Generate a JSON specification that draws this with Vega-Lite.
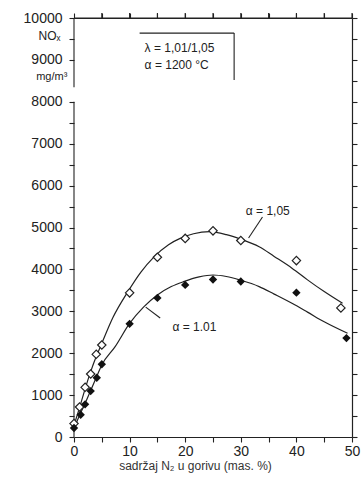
{
  "$schema": "https://vega.github.io/schema/vega-lite/v6.json",
  "width": 278,
  "height": 419,
  "autosize": {"type": "none"},
  "padding": {"left": 74, "top": 18, "right": 9, "bottom": 42},
  "background": "white",
  "config": {
    "view": {"stroke": null},
    "font": "Liberation Sans",
    "axis": {"grid": false, "domainColor": "#222", "tickColor": "#222", "labelColor": "#222", "labelFont": "Liberation Sans", "labelFontSize": 14, "tickSize": 5, "domainWidth": 1.2, "tickWidth": 1.1},
    "text": {"font": "Liberation Sans", "color": "#222"}
  },
  "datasets": {
    "pts": [
      {"x": 0, "y": 320, "s": "1,05"}, {"x": 1, "y": 715, "s": "1,05"}, {"x": 2, "y": 1186, "s": "1,05"}, {"x": 3, "y": 1503, "s": "1,05"}, {"x": 4, "y": 1973, "s": "1,05"}, {"x": 5, "y": 2195, "s": "1,05"}, {"x": 10, "y": 3440, "s": "1,05"}, {"x": 15, "y": 4290, "s": "1,05"}, {"x": 20, "y": 4740, "s": "1,05"}, {"x": 25, "y": 4920, "s": "1,05"}, {"x": 30, "y": 4690, "s": "1,05"}, {"x": 40, "y": 4210, "s": "1,05"}, {"x": 48, "y": 3080, "s": "1,05"},
      {"x": 0, "y": 215, "s": "1,01"}, {"x": 1.2, "y": 530, "s": "1,01"}, {"x": 2, "y": 780, "s": "1,01"}, {"x": 3, "y": 1095, "s": "1,01"}, {"x": 4.1, "y": 1415, "s": "1,01"}, {"x": 5, "y": 1735, "s": "1,01"}, {"x": 10, "y": 2700, "s": "1,01"}, {"x": 15, "y": 3320, "s": "1,01"}, {"x": 20, "y": 3630, "s": "1,01"}, {"x": 25, "y": 3760, "s": "1,01"}, {"x": 30, "y": 3710, "s": "1,01"}, {"x": 40, "y": 3445, "s": "1,01"}, {"x": 49, "y": 2360, "s": "1,01"}
    ],
    "fit": [
      {"x": 0, "y": 280, "s": "1,05"}, {"x": 1, "y": 700, "s": "1,05"}, {"x": 2, "y": 1150, "s": "1,05"}, {"x": 3, "y": 1560, "s": "1,05"}, {"x": 4, "y": 1920, "s": "1,05"}, {"x": 5, "y": 2235, "s": "1,05"}, {"x": 7, "y": 2850, "s": "1,05"}, {"x": 9.7, "y": 3470, "s": "1,05"}, {"x": 12, "y": 3930, "s": "1,05"}, {"x": 14.4, "y": 4300, "s": "1,05"}, {"x": 17, "y": 4590, "s": "1,05"}, {"x": 19.1, "y": 4740, "s": "1,05"}, {"x": 21.5, "y": 4850, "s": "1,05"}, {"x": 24.4, "y": 4900, "s": "1,05"}, {"x": 27.4, "y": 4830, "s": "1,05"}, {"x": 30, "y": 4720, "s": "1,05"}, {"x": 33.3, "y": 4540, "s": "1,05"}, {"x": 36, "y": 4310, "s": "1,05"}, {"x": 39.2, "y": 4030, "s": "1,05"}, {"x": 42, "y": 3750, "s": "1,05"}, {"x": 45, "y": 3470, "s": "1,05"}, {"x": 48.3, "y": 3190, "s": "1,05"},
      {"x": 0, "y": 200, "s": "1,01"}, {"x": 1, "y": 520, "s": "1,01"}, {"x": 2, "y": 800, "s": "1,01"}, {"x": 3, "y": 1110, "s": "1,01"}, {"x": 4, "y": 1420, "s": "1,01"}, {"x": 5, "y": 1720, "s": "1,01"}, {"x": 7.4, "y": 2155, "s": "1,01"}, {"x": 10, "y": 2710, "s": "1,01"}, {"x": 12.5, "y": 3100, "s": "1,01"}, {"x": 15, "y": 3390, "s": "1,01"}, {"x": 17.5, "y": 3590, "s": "1,01"}, {"x": 19.7, "y": 3707, "s": "1,01"}, {"x": 22.5, "y": 3820, "s": "1,01"}, {"x": 25, "y": 3866, "s": "1,01"}, {"x": 27.4, "y": 3830, "s": "1,01"}, {"x": 30, "y": 3740, "s": "1,01"}, {"x": 33.3, "y": 3590, "s": "1,01"}, {"x": 36, "y": 3410, "s": "1,01"}, {"x": 39.2, "y": 3190, "s": "1,01"}, {"x": 42, "y": 2980, "s": "1,01"}, {"x": 45, "y": 2750, "s": "1,01"}, {"x": 49.2, "y": 2475, "s": "1,01"}
    ],
    "segs": [
      {"x": 0, "y": 0, "x2": 0, "y2": 8000},
      {"x": 0, "y": 8350, "x2": 0, "y2": 10000},
      {"x": 0, "y": 10000, "x2": 50, "y2": 10000},
      {"x": 5, "y": 10000, "x2": 5, "y2": 10120},
      {"x": 10, "y": 10000, "x2": 10, "y2": 10120},
      {"x": 15, "y": 10000, "x2": 15, "y2": 10120},
      {"x": 20, "y": 10000, "x2": 20, "y2": 10120},
      {"x": 25, "y": 10000, "x2": 25, "y2": 10120},
      {"x": 30, "y": 10000, "x2": 30, "y2": 10120},
      {"x": 35, "y": 10000, "x2": 35, "y2": 10120},
      {"x": 40, "y": 10000, "x2": 40, "y2": 10120},
      {"x": 45, "y": 10000, "x2": 45, "y2": 10120},
      {"x": 50, "y": 10000, "x2": 50, "y2": 10120},
      {"x": 11.8, "y": 9640, "x2": 28.8, "y2": 9640},
      {"x": 28.8, "y": 9640, "x2": 28.8, "y2": 8520},
      {"x": 31.4, "y": 4750, "x2": 33.9, "y2": 5250},
      {"x": 12.9, "y": 3100, "x2": 15.5, "y2": 2840}
    ],
    "txt": [
      {"x": 12.7, "y": 9285, "t": "λ = 1,01/1,05", "a": "left", "z": 12},
      {"x": 12.7, "y": 8880, "t": "α = 1200 °C", "a": "left", "z": 12},
      {"x": 30.9, "y": 5394, "t": "α = 1,05", "a": "left", "z": 12},
      {"x": 17.7, "y": 2625, "t": "α = 1.01", "a": "left", "z": 12},
      {"x": -4.4, "y": 9570, "t": "NOₓ", "a": "center", "z": 12},
      {"x": -4.0, "y": 8590, "t": "mg/m³", "a": "center", "z": 11}
    ]
  },
  "layer": [
    {
      "encoding": {
        "x": {"field": "x", "type": "quantitative", "scale": {"domain": [0, 50], "nice": false, "zero": false},
              "axis": {"orient": "bottom", "values": [0, 5, 10, 15, 20, 25, 30, 35, 40, 45, 50], "labelExpr": "datum.value % 10 == 0 ? datum.label : ''", "title": "sadržaj  N₂  u gorivu (mas. %)", "titleFontWeight": "normal", "titleFontSize": 12, "titleColor": "#333", "titleX": 121, "titleY": 23, "titleBaseline": "top", "labelPadding": 2, "labelFlush": false, "labelOverlap": false}},
        "y": {"field": "y", "type": "quantitative", "scale": {"domain": [0, 10000], "nice": false, "zero": false},
              "axis": {"orient": "left", "values": [0, 500, 1000, 1500, 2000, 2500, 3000, 3500, 4000, 4500, 5000, 5500, 6000, 6500, 7000, 7500, 8000, 9000, 9500, 10000], "labelExpr": "datum.value % 1000 == 0 ? datum.value : ''", "domain": false, "title": null, "labelPadding": 7, "labelFlush": false, "labelOverlap": false}}
      },
      "layer": [
        {
          "data": {"name": "segs"},
          "mark": {"type": "rule", "color": "#222", "strokeWidth": 1.1},
          "encoding": {"x2": {"field": "x2"}, "y2": {"field": "y2"}}
        },
        {
          "data": {"name": "fit"},
          "mark": {"type": "line", "color": "#222", "strokeWidth": 1.2, "interpolate": "monotone"},
          "encoding": {"detail": {"field": "s"}}
        },
        {
          "data": {"name": "pts"},
          "transform": [{"filter": "datum.s == '1,05'"}],
          "mark": {"type": "point", "shape": "diamond", "filled": true, "fill": "white", "stroke": "#222", "strokeWidth": 1.2, "size": 70, "opacity": 1}
        },
        {
          "data": {"name": "pts"},
          "transform": [{"filter": "datum.s == '1,01'"}],
          "mark": {"type": "point", "shape": "diamond", "filled": true, "color": "#111", "size": 70, "opacity": 1}
        },
        {
          "data": {"name": "txt"},
          "transform": [{"filter": "datum.a == 'left'"}],
          "mark": {"type": "text", "baseline": "middle", "align": "left"},
          "encoding": {"text": {"field": "t"}, "size": {"field": "z", "type": "quantitative", "scale": null}}
        },
        {
          "data": {"name": "txt"},
          "transform": [{"filter": "datum.a == 'center'"}],
          "mark": {"type": "text", "baseline": "middle", "align": "center"},
          "encoding": {"text": {"field": "t"}, "size": {"field": "z", "type": "quantitative", "scale": null}}
        }
      ]
    },
    {
      "data": {"name": "segs"},
      "mark": {"type": "point", "opacity": 0},
      "encoding": {
        "x": {"field": "x", "type": "quantitative", "scale": {"domain": [0, 50], "nice": false, "zero": false},
              "axis": {"orient": "top", "values": [0, 5, 10, 15, 20, 25, 30, 35, 40, 45, 50], "labels": false, "title": null}},
        "y": {"field": "y", "type": "quantitative", "scale": {"domain": [0, 10000], "nice": false, "zero": false},
              "axis": {"orient": "right", "values": [0, 500, 1000, 1500, 2000, 2500, 3000, 3500, 4000, 4500, 5000, 5500, 6000, 6500, 7000, 7500, 8000, 8500, 9000, 9500, 10000], "labels": false, "title": null}}
      }
    }
  ]
}
